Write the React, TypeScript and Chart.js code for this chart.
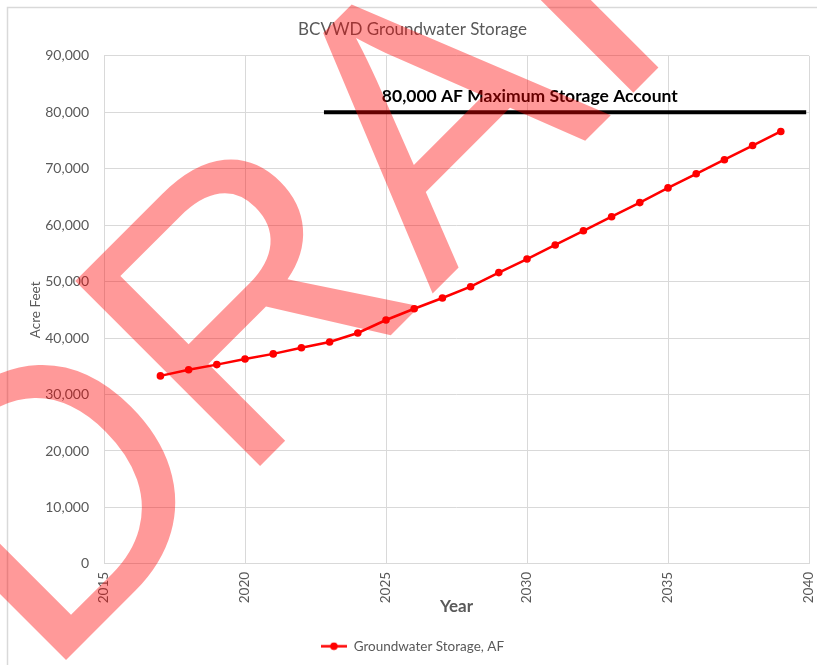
import React, { useEffect, useRef } from "react";
import { Chart, registerables } from "chart.js";

Chart.register(...registerables);

// ---- data ----
const years = [2017, 2018, 2019, 2020, 2021, 2022, 2023, 2024, 2025, 2026, 2027, 2028, 2029, 2030, 2031, 2032, 2033, 2034, 2035, 2036, 2037, 2038, 2039];
const storage = [33300, 34400, 35300, 36300, 37200, 38300, 39300, 40900, 43200, 45200, 47100, 49100, 51600, 54000, 56500, 59000, 61500, 64000, 66600, 69100, 71600, 74100, 76600];
const capYears = [2022.8, 2039.9];
const capValue = 80000;
const capLabel = "80,000 AF Maximum Storage Account";
const chartTitle = "BCVWD Groundwater Storage";
const seriesName = "Groundwater Storage, AF";
const xTitle = "Year";
const yTitle = "Acre Feet";
const watermarkText = "DRAFT";

// ---- styles ----
const GRAY = "#595959";
const GRID = "#d9d9d9";
const RED = "#ff0000";
const FONT = "Lato, 'Open Sans', sans-serif";

export default function App() {
  const ref = useRef<HTMLCanvasElement>(null);

  useEffect(() => {
    if (!ref.current) return;

    const marker = document.createElement("canvas");
    marker.width = 26;
    marker.height = 9;
    const mctx = marker.getContext("2d")!;
    mctx.strokeStyle = RED;
    mctx.lineWidth = 2.5;
    mctx.beginPath();
    mctx.moveTo(0, 4.5);
    mctx.lineTo(26, 4.5);
    mctx.stroke();
    mctx.fillStyle = RED;
    mctx.beginPath();
    mctx.arc(13, 4.5, 3.8, 0, Math.PI * 2);
    mctx.fill();

    const backgroundPlugin = {
      id: "bgBorder",
      beforeDraw(chart: any) {
        const ctx = chart.ctx;
        ctx.save();
        ctx.fillStyle = "#ffffff";
        ctx.fillRect(0, 0, chart.width, chart.height);
        ctx.strokeStyle = GRID;
        ctx.lineWidth = 1.5;
        ctx.strokeRect(7.5, 7.5, chart.width + 20, chart.height + 20);
        ctx.restore();
      },
    };

    const capLabelPlugin = {
      id: "capLabel",
      afterDatasetsDraw(chart: any) {
        const ctx = chart.ctx;
        const xs = chart.scales.x;
        const ys = chart.scales.y;
        ctx.save();
        ctx.font = `bold 17.5px ${FONT}`;
        ctx.fillStyle = "#000000";
        ctx.textAlign = "center";
        ctx.textBaseline = "middle";
        ctx.fillText(capLabel, xs.getPixelForValue(2030.1), ys.getPixelForValue(82900));
        ctx.restore();
      },
    };

    const watermarkPlugin = {
      id: "watermark",
      afterDraw(chart: any) {
        const ctx = chart.ctx;
        ctx.save();
        ctx.translate(44, 682);
        ctx.rotate(-Math.PI / 4);
        ctx.font = "380px 'Liberation Sans', Arial, sans-serif";
        ctx.fillStyle = "rgba(255, 0, 0, 0.4)";
        ctx.textAlign = "left";
        ctx.textBaseline = "alphabetic";
        ctx.fillText(watermarkText, 0, 0);
        ctx.restore();
      },
    };

    const chart = new Chart(ref.current, {
      type: "line",
      data: {
        datasets: [
          {
            label: seriesName,
            data: years.map((x, i) => ({ x, y: storage[i] })),
            borderColor: RED,
            backgroundColor: RED,
            borderWidth: 2.5,
            pointRadius: 3.8,
            pointHoverRadius: 3.8,
            pointBorderWidth: 0,
            pointBackgroundColor: RED,
            tension: 0,
          },
          {
            label: capLabel,
            data: capYears.map((x) => ({ x, y: capValue })),
            borderColor: "#000000",
            backgroundColor: "#000000",
            borderWidth: 4,
            pointRadius: 0,
            pointHoverRadius: 0,
            tension: 0,
          },
        ],
      },
      options: {
        responsive: true,
        maintainAspectRatio: false,
        animation: false,
        events: [],
        layout: { padding: { left: 16, right: 8, top: 0, bottom: 2 } },
        scales: {
          x: {
            type: "linear",
            min: 2015,
            max: 2040,
            grid: { color: GRID, drawTicks: false },
            border: { color: GRID },
            ticks: {
              stepSize: 5,
              minRotation: 90,
              maxRotation: 90,
              padding: 8,
              color: GRAY,
              font: { family: FONT, size: 13.5 },
              callback: (v: any) => String(v),
            },
            title: {
              display: true,
              text: xTitle,
              color: GRAY,
              font: { family: FONT, size: 17, weight: "bold" },
              padding: { top: 0, bottom: 13 },
            },
            afterFit: (s: any) => {
              s.height = 65.6;
              s.paddingLeft = 0;
              s.paddingRight = 0;
            },
          },
          y: {
            min: 0,
            max: 90000,
            grid: { color: GRID, drawTicks: false },
            border: { display: false },
            ticks: {
              stepSize: 10000,
              padding: 15,
              color: GRAY,
              font: { family: FONT, size: 14 },
              callback: (v: any) => Number(v).toLocaleString("en-US"),
            },
            title: {
              display: true,
              text: yTitle,
              color: GRAY,
              font: { family: FONT, size: 13.5 },
              padding: { top: 12, bottom: 0 },
            },
            afterFit: (s: any) => {
              s.width = 88;
            },
          },
        },
        plugins: {
          title: {
            display: true,
            text: chartTitle,
            color: GRAY,
            font: { family: FONT, size: 17, weight: "normal" },
            padding: { top: 19, bottom: 16.4 },
          },
          legend: {
            position: "bottom",
            labels: {
              usePointStyle: true,
              pointStyleWidth: 26,
              color: GRAY,
              font: { family: FONT, size: 13.5 },
              padding: 10,
              generateLabels: () => [
                {
                  text: seriesName,
                  pointStyle: marker as any,
                  fillStyle: RED,
                  strokeStyle: RED,
                  lineWidth: 0,
                  hidden: false,
                  datasetIndex: 0,
                  fontColor: GRAY,
                } as any,
              ],
            },
          },
          tooltip: { enabled: false },
        },
      } as any,
      plugins: [backgroundPlugin, capLabelPlugin, watermarkPlugin],
    });

    return () => chart.destroy();
  }, []);

  return (
    <div style={{ position: "fixed", left: 0, top: 0, width: 817, height: 665, background: "#fff" }}>
      <canvas ref={ref} />
    </div>
  );
}
